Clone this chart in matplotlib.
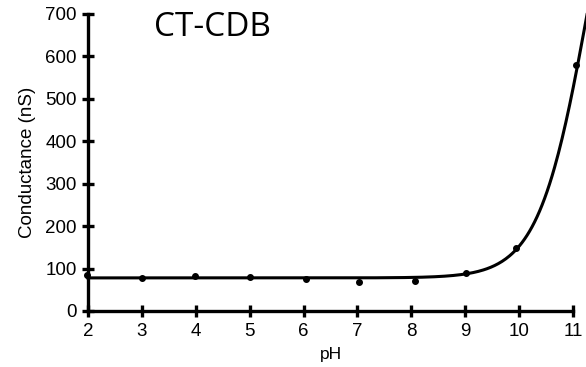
import numpy as np
import matplotlib
matplotlib.use("Agg")
import matplotlib.pyplot as plt

# Measured data
ph = [1.98, 3.01, 3.99, 5.01, 6.04, 7.03, 8.07, 9.01, 9.94, 11.06]
conductance = [85, 77, 82, 81, 75, 69, 71, 90, 148, 580]

# Fitted curve parameters (sigmoidal fit)
fit_bottom = 78.0
fit_span = 1300.0
fit_x0 = 11.3
fit_k = 2.15

x_ticks = [2, 3, 4, 5, 6, 7, 8, 9, 10, 11]
y_ticks = [0, 100, 200, 300, 400, 500, 600, 700]
title_text = "CT-CDB"
x_label = "pH"
y_label = "Conductance (nS)"

plt.rcParams['font.family'] = ['Liberation Sans', 'DejaVu Sans']

fig = plt.figure(figsize=(5.86, 3.67), dpi=100)
ax = fig.add_axes([0.150, 0.1526, 0.828, 0.8094])

def fit(x):
    return fit_bottom + fit_span / (1 + np.exp(-fit_k * (x - fit_x0)))

ymax = 700
x_end = fit_x0 - np.log(fit_span / (ymax - fit_bottom) - 1) / fit_k
xc = np.linspace(2, x_end, 400)
ax.plot(xc, fit(xc), color='black', lw=2.2, clip_on=False, zorder=3)
ax.plot(ph, conductance, 'o', color='black', ms=4.0, clip_on=False, zorder=4)

ax.set_xlim(2, 11)
ax.set_ylim(0, 700)
ax.set_xticks(x_ticks)
ax.set_yticks(y_ticks)
for s in ['top', 'right']:
    ax.spines[s].set_visible(False)
for s in ['left', 'bottom']:
    ax.spines[s].set_linewidth(2.4)
ax.tick_params(axis='both', direction='inout', length=9, width=2.4, labelsize=13.5)
ax.tick_params(axis='x', pad=4.5)
ax.tick_params(axis='y', pad=3.5)
ax.set_xlabel(x_label, fontsize=12.5, labelpad=5)
ax.set_ylabel(y_label, fontsize=13.5, labelpad=7)

fig.text(212/586, 1 - 28/367, title_text, fontsize=24, family=['Open Sans', 'DejaVu Sans'],
         ha='center', va='center')

fig.savefig("out.png", dpi=100)
